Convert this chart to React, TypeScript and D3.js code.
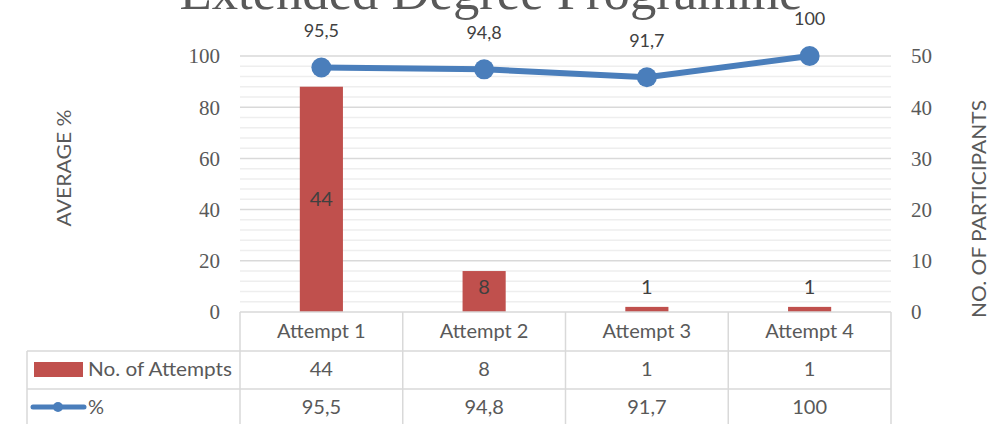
import React from "react";
import * as d3 from "d3";

const categories = ["Attempt 1", "Attempt 2", "Attempt 3", "Attempt 4"];
const attempts = [44, 8, 1, 1];
const percent = [95.5, 94.8, 91.7, 100];
const percentLabels = ["95,5", "94,8", "91,7", "100"];
const leftTicks = [0, 20, 40, 60, 80, 100];
const rightTicks = [0, 10, 20, 30, 40, 50];
const seriesNames = ["No. of Attempts", "%"];

const W = 1004;
const H = 424;
const plotL = 240;
const plotR = 891;
const plotT = 56;
const plotB = 312;
const RED = "#C0504D";
const BLUE = "#4A7EBB";
const GRID = "#d9d9d9";
const MINOR = "#eeeeee";
const TXT = "#595959";
const SANS = "Lato, 'Open Sans', sans-serif";
const SERIF = "'Liberation Serif', 'DejaVu Serif', serif";

export default function App() {
  const x = d3.scaleBand<string>().domain(categories).range([plotL, plotR]).padding(0);
  const yL = d3.scaleLinear().domain([0, 100]).range([plotB, plotT]);
  const yR = d3.scaleLinear().domain([0, 50]).range([plotB, plotT]);
  const bw = x.bandwidth();
  const barW = bw * 0.265;
  const cx = (c: string) => (x(c) as number) + bw / 2;
  const minorTicks = d3.range(0, 101, 4).filter((v) => v % 20 !== 0);
  const line = d3
    .line<number>()
    .x((_, i) => cx(categories[i]))
    .y((d) => yL(d));

  const row1T = plotB;
  const row2T = 351;
  const row3T = 389;
  const tableL = 27;

  return (
    <svg width={W} height={H} style={{ position: "absolute", left: 0, top: 0, background: "#fff" }}>
      <rect x={0} y={0} width={W} height={H} fill="#fff" />
      <text x={491} y={9} textAnchor="middle" fontFamily={SERIF} fontSize={50} fill="#595959" textLength={623} lengthAdjust="spacingAndGlyphs">
        Extended Degree Programme
      </text>

      {minorTicks.map((v) => (
        <line key={"m" + v} x1={plotL} x2={plotR} y1={yL(v)} y2={yL(v)} stroke={MINOR} strokeWidth={1.5} />
      ))}
      {leftTicks.filter((v) => v > 0).map((v) => (
        <line key={"g" + v} x1={plotL} x2={plotR} y1={yL(v)} y2={yL(v)} stroke={GRID} strokeWidth={1.5} />
      ))}

      {leftTicks.map((v) => (
        <text key={"l" + v} x={220} y={yL(v)} dy="0.35em" textAnchor="end" fontFamily={SERIF} fontSize={21} fill={TXT}>
          {v}
        </text>
      ))}
      {rightTicks.map((v) => (
        <text key={"r" + v} x={911} y={yR(v)} dy="0.35em" textAnchor="start" fontFamily={SERIF} fontSize={21} fill={TXT}>
          {v}
        </text>
      ))}
      <text transform="translate(71,168) rotate(-90)" textAnchor="middle" fontFamily={SANS} fontSize={20} fill={TXT} textLength={117} lengthAdjust="spacingAndGlyphs">
        AVERAGE %
      </text>
      <text transform="translate(986,209) rotate(-90)" textAnchor="middle" fontFamily={SANS} fontSize={20} fill={TXT} textLength={218} lengthAdjust="spacingAndGlyphs">
        NO. OF PARTICIPANTS
      </text>

      {attempts.map((v, i) => (
        <rect key={"b" + i} x={cx(categories[i]) - barW / 2} y={yR(v)} width={barW} height={plotB - yR(v)} fill={RED} />
      ))}
      {attempts.map((v, i) => {
        const top = yR(v);
        const h = plotB - top;
        const yy = h > 30 ? top + h / 2 : top - 20;
        return (
          <text key={"bl" + i} x={cx(categories[i])} y={v === 8 ? top + 16 : yy} dy="0.35em" textAnchor="middle" fontFamily={SANS} fontSize={20} fill="#404040">
            {v}
          </text>
        );
      })}

      <path d={line(percent) || ""} fill="none" stroke={BLUE} strokeWidth={6} strokeLinejoin="round" />
      {percent.map((v, i) => (
        <circle key={"c" + i} cx={cx(categories[i])} cy={yL(v)} r={10} fill={BLUE} />
      ))}
      {percent.map((v, i) => (
        <text key={"pl" + i} x={cx(categories[i])} y={yL(v) - 37} dy="0.35em" textAnchor="middle" fontFamily={SANS} fontSize={18} fill="#404040">
          {percentLabels[i]}
        </text>
      ))}

      {/* data table */}
      <g stroke={GRID} strokeWidth={1.5} fill="none">
        <line x1={plotL} x2={plotR} y1={row1T} y2={row1T} />
        <line x1={tableL} x2={plotR} y1={row2T} y2={row2T} />
        <line x1={tableL} x2={plotR} y1={row3T} y2={row3T} />
        <line x1={tableL} x2={tableL} y1={row2T} y2={H} />
        {categories.map((c) => (
          <line key={"v" + c} x1={x(c) as number} x2={x(c) as number} y1={row1T} y2={H} />
        ))}
        <line x1={plotR} x2={plotR} y1={row1T} y2={H} />
      </g>
      {categories.map((c) => (
        <text key={"ct" + c} x={cx(c)} y={331} dy="0.35em" textAnchor="middle" fontFamily={SANS} fontSize={20} fill={TXT}>
          {c}
        </text>
      ))}
      {attempts.map((v, i) => (
        <text key={"t1" + i} x={cx(categories[i])} y={369} dy="0.35em" textAnchor="middle" fontFamily={SANS} fontSize={20} fill={TXT}>
          {v}
        </text>
      ))}
      {percentLabels.map((v, i) => (
        <text key={"t2" + i} x={cx(categories[i])} y={407} dy="0.35em" textAnchor="middle" fontFamily={SANS} fontSize={20} fill={TXT}>
          {v}
        </text>
      ))}
      <rect x={34} y={362} width={49} height={15} fill={RED} />
      <text x={88} y={369} dy="0.35em" fontFamily={SANS} fontSize={20} fill={TXT} textLength={144} lengthAdjust="spacingAndGlyphs">
        {seriesNames[0]}
      </text>
      <line x1={33} x2={84} y1={407} y2={407} stroke={BLUE} strokeWidth={5} strokeLinecap="round" />
      <circle cx={58} cy={407} r={5} fill={BLUE} />
      <text x={88} y={407} dy="0.35em" fontFamily={SANS} fontSize={20} fill={TXT}>
        {seriesNames[1]}
      </text>
    </svg>
  );
}
